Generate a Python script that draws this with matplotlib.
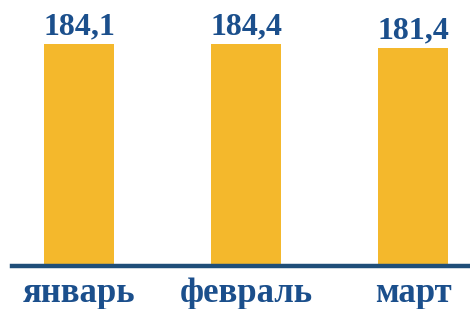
import matplotlib
matplotlib.use("Agg")
import matplotlib.pyplot as plt

months = ["январь", "февраль", "март"]
values = [184.1, 184.4, 181.4]
value_labels = ["184,1", "184,4", "181,4"]

bar_color = "#F4B82C"
text_color = "#1B4F8C"
line_color = "#1F4E79"

W, H = 470, 309
fig = plt.figure(figsize=(W / 100, H / 100), dpi=100)
ax = fig.add_axes([12 / W, 1 - 266 / H, 458 / W, 266 / H])

x = list(range(len(months)))
ax.bar(x, values, width=0.42, color=bar_color, zorder=2)
ax.set_xlim(-0.401, 2.341)
ax.set_ylim(0, 221)

for xi, v, lab in zip(x, values, value_labels):
    ax.annotate(lab, (xi, v), xytext=(0, 7), textcoords="offset points",
                ha="center", va="baseline", fontsize=23, fontweight="bold",
                family="Liberation Serif", color=text_color)

for xi, m in zip(x, months):
    ax.text(xi, -0.135, m, transform=ax.get_xaxis_transform(),
            ha="center", va="baseline", fontsize=25, fontweight="bold",
            family="Liberation Serif", color=text_color)

ax.axhline(0, color=line_color, linewidth=3.2, zorder=3, clip_on=False)
for s in ax.spines.values():
    s.set_visible(False)
ax.set_xticks([])
ax.set_yticks([])

fig.savefig("out.png", dpi=100)
